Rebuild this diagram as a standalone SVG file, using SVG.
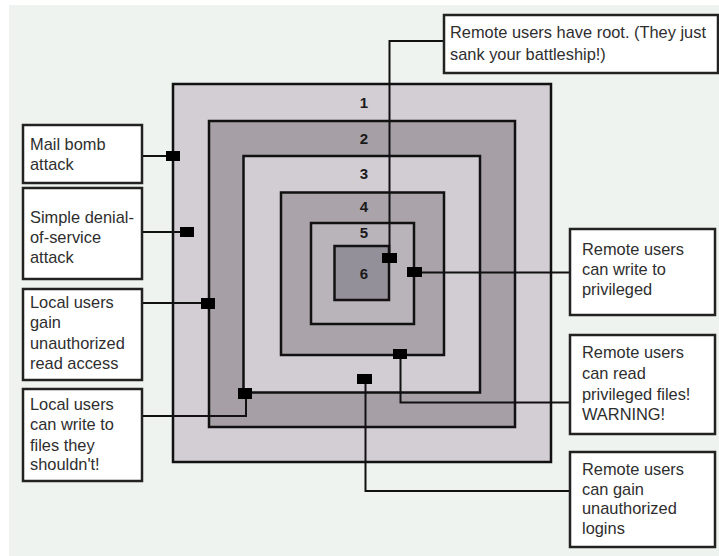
<svg xmlns="http://www.w3.org/2000/svg" width="719" height="556" viewBox="0 0 719 556">
<style>
.sq{stroke:#111;stroke-width:2.5}
.box{fill:#fff;stroke:#222;stroke-width:2.5}
.t{font-family:"Liberation Sans",Arial,sans-serif;font-size:16.4px;fill:#2e2e2e}
.n{font-family:"Liberation Sans",Arial,sans-serif;font-size:15px;font-weight:bold;fill:#1a1a1a;text-anchor:middle}
.c{fill:none;stroke:#111;stroke-width:2}
.m{fill:#000}
</style>
<rect x="0" y="0" width="719" height="556" fill="#fff"/>
<rect x="9" y="5" width="710" height="551" fill="#eef3ef"/>
<g id="rings">
<rect class="sq" x="173" y="84" width="378" height="378" fill="#d3cdd4"/>
<rect class="sq" x="209" y="121" width="306" height="306" fill="#a69fa6"/>
<rect class="sq" x="243.5" y="156" width="236.5" height="236.5" fill="#d2ccd3"/>
<rect class="sq" x="281" y="192.5" width="163" height="162.5" fill="#aaa4aa"/>
<rect class="sq" x="311" y="223" width="103" height="101" fill="#b9b3ba"/>
<rect class="sq" x="334.5" y="246" width="54.5" height="54" fill="#94909a"/>
<text class="n" x="364" y="108">1</text>
<text class="n" x="364" y="144">2</text>
<text class="n" x="364" y="179">3</text>
<text class="n" x="364" y="212">4</text>
<text class="n" x="364" y="238">5</text>
<text class="n" x="364" y="279">6</text>
</g>
<g id="connectors">
<path class="c" d="M142,156 H173"/>
<path class="c" d="M142,232 H187"/>
<path class="c" d="M142,303 H208"/>
<path class="c" d="M142,416 H246 V393.5"/>
<path class="c" d="M444,41 H389.5 V258"/>
<path class="c" d="M414.5,272.5 H570"/>
<path class="c" d="M400.5,354 V402.5 H570"/>
<path class="c" d="M365.5,379 V491 H570"/>
<rect class="m" x="166" y="151" width="14" height="10"/>
<rect class="m" x="180" y="227" width="14" height="10"/>
<rect class="m" x="201" y="298" width="14" height="11"/>
<rect class="m" x="238" y="388" width="14" height="11"/>
<rect class="m" x="382" y="253" width="15" height="10"/>
<rect class="m" x="407" y="267" width="15" height="10"/>
<rect class="m" x="393" y="349" width="14" height="10"/>
<rect class="m" x="357" y="374" width="15" height="10"/>
</g>
<g id="mail-bomb">
<rect class="box" x="23" y="125" width="119" height="58"/>
<text class="t" x="30" y="150">Mail bomb</text>
<text class="t" x="30" y="170">attack</text>
</g>
<g id="simple-dos">
<rect class="box" x="23" y="188" width="119" height="91"/>
<text class="t" x="30" y="223">Simple denial-</text>
<text class="t" x="30" y="243">of-service</text>
<text class="t" x="30" y="263">attack</text>
</g>
<g id="local-read">
<rect class="box" x="23" y="289" width="119" height="91"/>
<text class="t" x="30" y="308">Local users</text>
<text class="t" x="30" y="328">gain</text>
<text class="t" x="30" y="349">unauthorized</text>
<text class="t" x="30" y="369">read access</text>
</g>
<g id="local-write">
<rect class="box" x="23" y="389" width="119" height="92"/>
<text class="t" x="30" y="410">Local users</text>
<text class="t" x="30" y="430">can write to</text>
<text class="t" x="30" y="451">files they</text>
<text class="t" x="30" y="470">shouldn't!</text>
</g>
<g id="remote-root">
<rect class="box" x="444" y="15" width="274" height="58"/>
<text class="t" x="450" y="38">Remote users have root. (They just</text>
<text class="t" x="450" y="60">sank your battleship!)</text>
</g>
<g id="remote-write">
<rect class="box" x="570" y="229" width="145" height="86"/>
<text class="t" x="582" y="255">Remote users</text>
<text class="t" x="582" y="275">can write to</text>
<text class="t" x="582" y="295">privileged</text>
</g>
<g id="remote-read">
<rect class="box" x="570" y="335" width="145" height="99"/>
<text class="t" x="582" y="358">Remote users</text>
<text class="t" x="582" y="379">can read</text>
<text class="t" x="582" y="400">privileged files!</text>
<text class="t" x="582" y="420">WARNING!</text>
</g>
<g id="remote-logins">
<rect class="box" x="570" y="452" width="145" height="95"/>
<text class="t" x="582" y="475">Remote users</text>
<text class="t" x="582" y="495">can gain</text>
<text class="t" x="582" y="514">unauthorized</text>
<text class="t" x="582" y="534">logins</text>
</g>
</svg>
